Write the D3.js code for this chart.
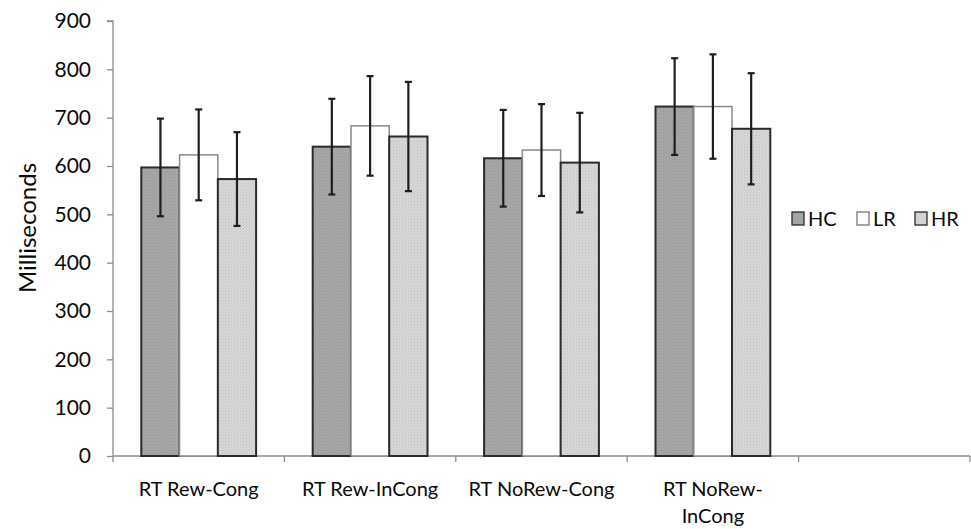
<!DOCTYPE html>
<html><head><meta charset="utf-8">
<script src="https://cdn.jsdelivr.net/npm/d3@7"></script>
<style>body{margin:0;background:#fff}svg{display:block}text{font-family:Lato,"Open Sans",sans-serif;fill:#0a0a0a}</style>
</head><body><svg id="c" width="971" height="529"></svg>
<script>
const categories = ["RT Rew-Cong", "RT Rew-InCong", "RT NoRew-Cong", "RT NoRew-InCong", ""];
const seriesNames = ["HC", "LR", "HR"];
const hcValues = [597, 640, 616, 723];
const lrValues = [623, 683, 633, 723];
const hrValues = [573, 661, 607, 677];
const hcErrors = [101, 99, 100, 100];
const lrErrors = [94, 103, 95, 108];
const hrErrors = [97, 113, 103, 115];
const yTicks = [0, 100, 200, 300, 400, 500, 600, 700, 800, 900];

const svg = d3.select("#c");
const defs = svg.append("defs");
function pat(id, base, dot) {
  const p = defs.append("pattern").attr("id", id).attr("width", 3).attr("height", 3).attr("patternUnits", "userSpaceOnUse");
  p.append("rect").attr("width", 3).attr("height", 3).attr("fill", base);
  p.append("rect").attr("x", 0).attr("y", 0).attr("width", 1).attr("height", 1).attr("fill", dot);
  p.append("rect").attr("x", 1.5).attr("y", 1.5).attr("width", 1).attr("height", 1).attr("fill", dot);
}
pat("pHC", "#a9a9a9", "#939393");
pat("pHR", "#d9d9d9", "#bdbdbd");

const fills = {HC: "url(#pHC)", LR: "#ffffff", HR: "url(#pHR)"};
const strokes = {HC: "#2a2a2a", LR: "#8a8a8a", HR: "#2a2a2a"};

const x0 = 113, x1 = 970, yBase = 456, yTop = 21;
const x = d3.scaleBand().domain(categories.map((c, i) => i)).range([x0, x1]).paddingInner(0).paddingOuter(0);
const y = d3.scaleLinear().domain([0, 900]).range([yBase, yTop]);
const groupPad = 28.3;
const xs = d3.scaleBand().domain(seriesNames).range([0, x.bandwidth() - 2 * groupPad]);

// y axis
const ya = svg.append("g").attr("transform", `translate(${x0},0)`)
  .call(d3.axisLeft(y).tickValues(yTicks).tickSize(6).tickPadding(16).tickFormat(d3.format("d")));
ya.select(".domain").attr("stroke", "#8c8c8c").attr("stroke-width", 1.3).attr("d", `M-6,${yTop}H0V${yBase}`);
ya.selectAll(".tick line").attr("stroke", "#8c8c8c").attr("stroke-width", 1.3);
ya.selectAll(".tick text").attr("font-size", 21).attr("fill", "#0a0a0a").style("font-family", "Lato, sans-serif");

// x axis
const xa = svg.append("g").attr("transform", `translate(0,${yBase})`);
xa.append("line").attr("x1", x0).attr("x2", x1).attr("y1", 0).attr("y2", 0).attr("stroke", "#8c8c8c").attr("stroke-width", 1.3);
const bounds = categories.map((c, i) => x(i)).concat([x1]);
xa.selectAll("line.t").data(bounds).join("line").attr("class", "t")
  .attr("x1", d => d).attr("x2", d => d).attr("y1", 0).attr("y2", 6).attr("stroke", "#8c8c8c").attr("stroke-width", 1.3);

const labelLines = [["RT Rew-Cong"], ["RT Rew-InCong"], ["RT NoRew-Cong"], ["RT NoRew-", "InCong"], [""]];
labelLines.forEach((lines, i) => {
  lines.forEach((l, j) => {
    svg.append("text").attr("x", x(i) + x.bandwidth() / 2).attr("y", 496 + j * 27)
      .attr("text-anchor", "middle").attr("font-size", 20).text(l);
  });
});

// bars
const data = [hcValues, lrValues, hrValues];
const errs = [hcErrors, lrErrors, hrErrors];
const bars = svg.append("g");
[0, 1, 2, 3].forEach(i => {
  seriesNames.forEach((s, k) => {
    const bx = x(i) + groupPad + xs(s);
    bars.append("rect").attr("x", bx).attr("y", y(data[k][i])).attr("width", xs.bandwidth())
      .attr("height", yBase - y(data[k][i])).attr("fill", fills[s]).attr("stroke", strokes[s])
      .attr("stroke-width", s === "LR" ? 1.5 : 2);
  });
});
// error bars
const eg = svg.append("g").attr("stroke", "#1e1e1e").attr("stroke-width", 2.2);
[0, 1, 2, 3].forEach(i => {
  seriesNames.forEach((s, k) => {
    const cx = x(i) + groupPad + xs(s) + xs.bandwidth() / 2;
    const hi = y(data[k][i] + errs[k][i]), lo = y(data[k][i] - errs[k][i]);
    eg.append("line").attr("x1", cx).attr("x2", cx).attr("y1", hi).attr("y2", lo);
    eg.append("line").attr("x1", cx - 3.5).attr("x2", cx + 3.5).attr("y1", hi).attr("y2", hi);
    eg.append("line").attr("x1", cx - 3.5).attr("x2", cx + 3.5).attr("y1", lo).attr("y2", lo);
  });
});

// y label
svg.append("text").attr("transform", "translate(36,228) rotate(-90)").attr("text-anchor", "middle")
  .attr("font-size", 24).text("Milliseconds");

// legend
const legX = [792, 857, 915];
seriesNames.forEach((s, k) => {
  svg.append("rect").attr("x", legX[k]).attr("y", 212).attr("width", 12).attr("height", 13)
    .attr("fill", fills[s]).attr("stroke", s === "LR" ? "#777" : "#2a2a2a").attr("stroke-width", 1.3);
  svg.append("text").attr("x", legX[k] + 16).attr("y", 226).attr("font-size", 20).text(s);
});
</script></body></html>
